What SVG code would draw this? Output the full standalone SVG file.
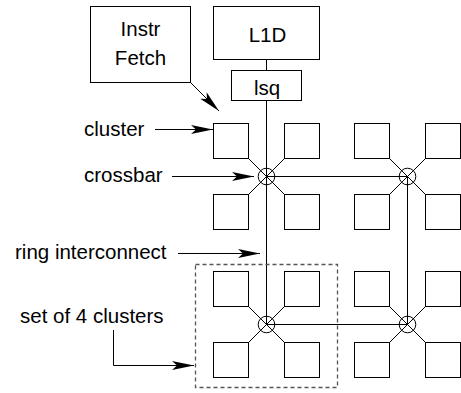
<svg xmlns="http://www.w3.org/2000/svg" width="461" height="393" viewBox="0 0 461 393">
<style>
  .box { fill: #fff; stroke: #000; stroke-width: 1; }
  .ln { fill: none; stroke: #000; stroke-width: 1; }
  .arr { fill: none; stroke: #000; stroke-width: 1; marker-end: url(#ah); }
  .xb { fill: none; stroke: #000; stroke-width: 1; }
  .dash { fill: none; stroke: #555; stroke-width: 1.3; stroke-dasharray: 4 3; }
  text { font-family: "Liberation Sans", Arial, sans-serif; font-size: 20.5px; fill: #000; }
  .c { text-anchor: middle; }
</style>
<defs>
  <marker id="ah" markerUnits="userSpaceOnUse" viewBox="-24 -6 25 12" refX="0" refY="0" markerWidth="25" markerHeight="12" orient="auto" overflow="visible">
    <path d="M0,0 L-22,-4.5 L-17,0 L-22,4.5 Z" fill="#000"/>
  </marker>
</defs>

<g id="instr-fetch">
  <rect class="box" x="90.5" y="6.5" width="100" height="76"/>
  <text class="c" x="140.5" y="35.5">Instr</text>
  <text class="c" x="140.5" y="65">Fetch</text>
</g>
<g id="l1d">
  <rect class="box" x="213.5" y="6.5" width="106" height="53"/>
  <text class="c" x="267.5" y="42">L1D</text>
</g>
<g id="lsq">
  <rect class="box" x="231.5" y="70.5" width="70" height="30"/>
  <text class="c" x="267" y="95">lsq</text>
</g>

<g id="connectors">
  <line class="ln" x1="266.5" y1="59.5" x2="266.5" y2="70.5"/>
  <line class="ln" x1="266.5" y1="100.5" x2="266.5" y2="324.5"/>
  <line class="ln" x1="266.5" y1="176.5" x2="407.5" y2="176.5"/>
  <line class="ln" x1="266.5" y1="324.5" x2="407.5" y2="324.5"/>
  <line class="ln" x1="407.5" y1="176.5" x2="407.5" y2="324.5"/>
  <!-- diagonals -->
  <line class="ln" x1="248.5" y1="158.5" x2="284.5" y2="194.5"/>
  <line class="ln" x1="284.5" y1="158.5" x2="248.5" y2="194.5"/>
  <line class="ln" x1="389.5" y1="158.5" x2="425.5" y2="194.5"/>
  <line class="ln" x1="425.5" y1="158.5" x2="389.5" y2="194.5"/>
  <line class="ln" x1="248.5" y1="306.5" x2="284.5" y2="342.5"/>
  <line class="ln" x1="284.5" y1="306.5" x2="248.5" y2="342.5"/>
  <line class="ln" x1="389.5" y1="306.5" x2="425.5" y2="342.5"/>
  <line class="ln" x1="425.5" y1="306.5" x2="389.5" y2="342.5"/>
  <!-- label arrows -->
  <line class="arr" x1="190.5" y1="82.5" x2="219" y2="111"/>
  <line class="arr" x1="155" y1="129.5" x2="213" y2="129.5"/>
  <line class="arr" x1="172" y1="176.5" x2="254" y2="176.5"/>
  <line class="arr" x1="178" y1="253.5" x2="260" y2="253.5"/>
  <polyline class="arr" points="113.5,330 113.5,365.5 194,365.5"/>
</g>

<g id="crossbar-ul"><circle class="xb" cx="266.5" cy="176.5" r="8.3"/></g>
<g id="crossbar-ur"><circle class="xb" cx="407.5" cy="176.5" r="8.3"/></g>
<g id="crossbar-ll"><circle class="xb" cx="266.5" cy="324.5" r="8.3"/></g>
<g id="crossbar-lr"><circle class="xb" cx="407.5" cy="324.5" r="8.3"/></g>

<g id="cluster-ul-1"><rect class="box" x="213.5" y="123.5" width="35" height="35"/></g>
<g id="cluster-ul-2"><rect class="box" x="284.5" y="123.5" width="35" height="35"/></g>
<g id="cluster-ul-3"><rect class="box" x="213.5" y="194.5" width="35" height="35"/></g>
<g id="cluster-ul-4"><rect class="box" x="284.5" y="194.5" width="35" height="35"/></g>
<g id="cluster-ur-1"><rect class="box" x="354.5" y="123.5" width="35" height="35"/></g>
<g id="cluster-ur-2"><rect class="box" x="425.5" y="123.5" width="35" height="35"/></g>
<g id="cluster-ur-3"><rect class="box" x="354.5" y="194.5" width="35" height="35"/></g>
<g id="cluster-ur-4"><rect class="box" x="425.5" y="194.5" width="35" height="35"/></g>
<g id="cluster-ll-1"><rect class="box" x="213.5" y="271.5" width="35" height="35"/></g>
<g id="cluster-ll-2"><rect class="box" x="284.5" y="271.5" width="35" height="35"/></g>
<g id="cluster-ll-3"><rect class="box" x="213.5" y="342.5" width="35" height="35"/></g>
<g id="cluster-ll-4"><rect class="box" x="284.5" y="342.5" width="35" height="35"/></g>
<g id="cluster-lr-1"><rect class="box" x="354.5" y="271.5" width="35" height="35"/></g>
<g id="cluster-lr-2"><rect class="box" x="425.5" y="271.5" width="35" height="35"/></g>
<g id="cluster-lr-3"><rect class="box" x="354.5" y="342.5" width="35" height="35"/></g>
<g id="cluster-lr-4"><rect class="box" x="425.5" y="342.5" width="35" height="35"/></g>

<g id="set-of-4">
  <rect class="dash" x="195.5" y="264.5" width="142" height="123"/>
</g>

<g id="labels">
  <text x="84" y="136">cluster</text>
  <text x="84" y="182">crossbar</text>
  <text x="15" y="258.5">ring interconnect</text>
  <text x="20" y="323">set of 4 clusters</text>
</g>
</svg>
